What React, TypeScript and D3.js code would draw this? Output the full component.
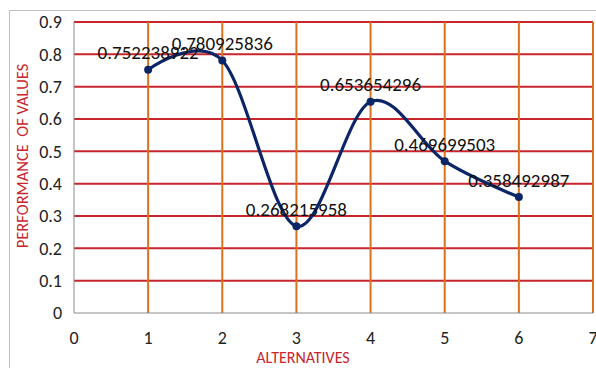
import React from "react"
import * as d3 from "d3"

const alternatives = [1, 2, 3, 4, 5, 6]
const performance = [0.752238922, 0.780925836, 0.268215958, 0.653654296, 0.469699503, 0.358492987]
const xTicks = [0, 1, 2, 3, 4, 5, 6, 7]
const yTicks = [0, 0.1, 0.2, 0.3, 0.4, 0.5, 0.6, 0.7, 0.8, 0.9]

const W = 596
const H = 368
const margin = { top: 22, right: 3, bottom: 55, left: 74 }

export default function App() {
  const x = d3.scaleLinear().domain([0, 7]).range([margin.left, W - margin.right])
  const y = d3.scaleLinear().domain([0, 0.9]).range([H - margin.bottom, margin.top])

  const points = alternatives.map((a, i) => ({ a, v: performance[i] }))

  const line = d3
    .line<{ a: number; v: number }>()
    .x(d => x(d.a))
    .y(d => y(d.v))
    .curve(d3.curveCardinal.tension(0))

  const font = "Carlito, Calibri, 'Liberation Sans', Arial, sans-serif"

  return (
    <svg
      width={W}
      height={H}
      style={{ position: "absolute", left: 0, top: 0, background: "#fff" }}
      fontFamily={font}
    >
      <rect x={9.5} y={10.5} width={W} height={H} fill="#fff" stroke="#bfbfbf" />

      {/* horizontal grid */}
      {yTicks.slice(1).map(t => (
        <line key={"h" + t} x1={x(0)} x2={x(7)} y1={y(t)} y2={y(t)} stroke="#c9252c" strokeWidth={2} />
      ))}
      {/* vertical grid */}
      {xTicks.slice(1).map(t => (
        <line key={"v" + t} x1={x(t)} x2={x(t)} y1={y(0.9)} y2={y(0)} stroke="#d9711f" strokeWidth={2} />
      ))}

      {/* axes */}
      <line x1={x(0)} x2={x(0)} y1={y(0.9)} y2={y(0)} stroke="#8c8c8c" strokeWidth={1} />
      <line x1={x(0)} x2={x(7)} y1={y(0)} y2={y(0)} stroke="#8c8c8c" strokeWidth={1} />

      {yTicks.map(t => (
        <text key={"yt" + t} x={62} y={y(t)} dy="0.35em" textAnchor="end" fontSize={18} fill="#222">
          {t === 0 ? "0" : t.toFixed(1)}
        </text>
      ))}
      {xTicks.map(t => (
        <text key={"xt" + t} x={x(t)} y={y(0) + 25} dy="0.35em" textAnchor="middle" fontSize={18} fill="#222">
          {t}
        </text>
      ))}

      <path d={line(points) || ""} fill="none" stroke="#0b2566" strokeWidth={3.2} />
      {points.map(p => (
        <circle key={"c" + p.a} cx={x(p.a)} cy={y(p.v)} r={4} fill="#0b2566" />
      ))}
      {points.map(p => (
        <text key={"l" + p.a} x={x(p.a)} y={y(p.v) - 17} dy="0.35em" textAnchor="middle" fontSize={19} fill="#111">
          {String(p.v)}
        </text>
      ))}

      <text x={303} y={357} dy="0.35em" textAnchor="middle" fontSize={16} fill="#c9252c">
        ALTERNATIVES
      </text>
      <text
        transform="translate(22,156) rotate(-90)"
        dy="0.35em"
        textAnchor="middle"
        fontSize={16.5}
        fill="#c9252c"
        style={{ whiteSpace: "pre" }}
      >
        {"PERFORMANCE  OF VALUES"}
      </text>
    </svg>
  )
}
